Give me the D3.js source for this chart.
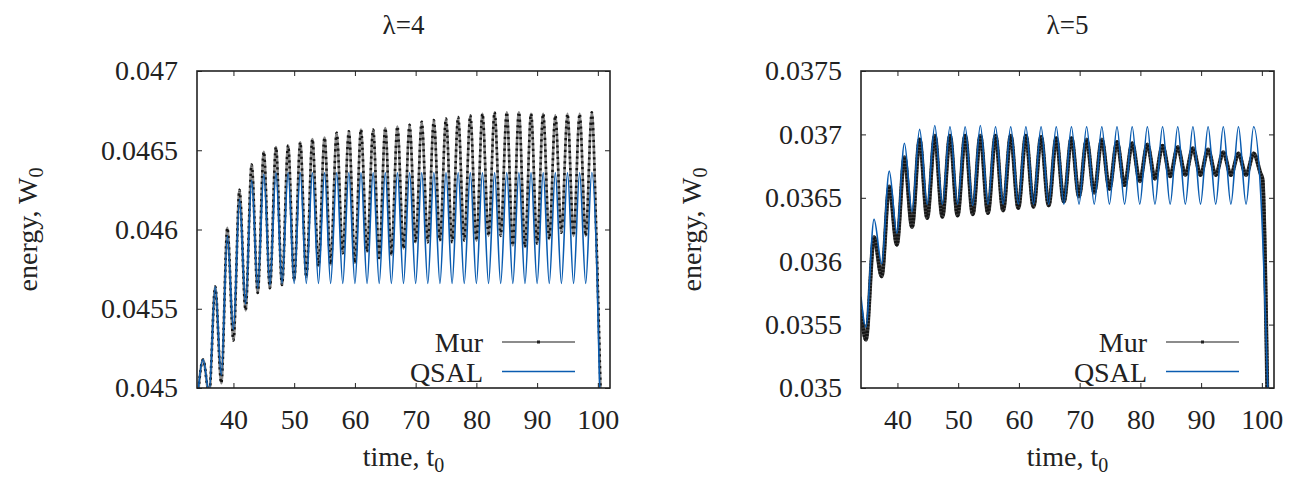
<!DOCTYPE html>
<html>
<head>
<meta charset="utf-8">
<script src="https://cdn.jsdelivr.net/npm/d3@7"></script>
<style>
  body { margin: 0; background: #fff; }
  svg { display: block; }
</style>
</head>
<body>
<div id="graph"></div>
<script>
// lambda = 4 : [time t0, energy W0] at turning points of each curve
const murL4 = [
	[34, 0.04488], [35, 0.04518], [36, 0.04496], [37, 0.04564], [38, 0.04503], [39, 0.04601],
	[40, 0.0453], [41, 0.04625], [42, 0.04549], [43, 0.04641], [44, 0.0456], [45, 0.04649],
	[46, 0.04563], [47, 0.04652], [48, 0.04565], [49, 0.04653], [50, 0.04568], [51, 0.04655],
	[52, 0.0457], [53, 0.04657], [54, 0.04577], [55, 0.04658], [56, 0.04578], [57, 0.04661],
	[58, 0.04585], [59, 0.04662], [60, 0.04579], [61, 0.04663], [62, 0.04586], [63, 0.04663],
	[64, 0.04582], [65, 0.04664], [66, 0.04584], [67, 0.04665], [68, 0.04588], [69, 0.04666],
	[70, 0.04592], [71, 0.04668], [72, 0.04592], [73, 0.04669], [74, 0.04593], [75, 0.0467],
	[76, 0.04592], [77, 0.04671], [78, 0.04593], [79, 0.04672], [80, 0.04593], [81, 0.04673],
	[82, 0.04596], [83, 0.04674], [84, 0.04596], [85, 0.04674], [86, 0.0459], [87, 0.04674],
	[88, 0.04589], [89, 0.04673], [90, 0.04591], [91, 0.04673], [92, 0.04594], [93, 0.04672],
	[94, 0.04598], [95, 0.04673], [96, 0.04596], [97, 0.04673], [98, 0.04596], [99, 0.04674],
	[99.8, 0.0459], [100.5, 0.0449]
];
const qsalL4 = [
	[34, 0.0449], [35, 0.04518], [36, 0.04497], [37, 0.04564], [38, 0.04508], [39, 0.04596],
	[40, 0.04537], [41, 0.04619], [42, 0.04553], [43, 0.04631], [44, 0.04563], [45, 0.04635],
	[46, 0.04565], [47, 0.04636], [48, 0.04566], [49, 0.04636], [50, 0.04566], [51, 0.04636],
	[52, 0.04566], [53, 0.04636], [54, 0.04566], [55, 0.04636], [56, 0.04566], [57, 0.04636],
	[58, 0.04566], [59, 0.04636], [60, 0.04566], [61, 0.04636], [62, 0.04566], [63, 0.04636],
	[64, 0.04566], [65, 0.04636], [66, 0.04566], [67, 0.04636], [68, 0.04566], [69, 0.04636],
	[70, 0.04566], [71, 0.04636], [72, 0.04566], [73, 0.04636], [74, 0.04566], [75, 0.04636],
	[76, 0.04566], [77, 0.04636], [78, 0.04566], [79, 0.04636], [80, 0.04566], [81, 0.04636],
	[82, 0.04566], [83, 0.04636], [84, 0.04566], [85, 0.04636], [86, 0.04566], [87, 0.04636],
	[88, 0.04566], [89, 0.04636], [90, 0.04566], [91, 0.04636], [92, 0.04566], [93, 0.04636],
	[94, 0.04566], [95, 0.04636], [96, 0.04566], [97, 0.04636], [98, 0.04566], [99, 0.04636],
	[99.9, 0.04567], [100.35, 0.0449]
];

// lambda = 5
const murL5 = [
	[34, 0.03562], [34.8, 0.03538], [36.15, 0.03619], [37.4, 0.03588], [38.65, 0.03659],
	[39.9, 0.03613], [41.15, 0.03682], [42.4, 0.03627], [43.65, 0.03696], [44.9, 0.03634],
	[46.15, 0.03699], [47.4, 0.03635], [48.65, 0.03699], [49.9, 0.03636], [51.15, 0.03699],
	[52.4, 0.03637], [53.65, 0.03699], [54.9, 0.03638], [56.15, 0.03699], [57.4, 0.0364],
	[58.65, 0.03699], [59.9, 0.03642], [61.15, 0.03699], [62.4, 0.03643], [63.65, 0.03698],
	[64.9, 0.03644], [66.15, 0.03697], [67.4, 0.03647], [68.65, 0.03697], [69.9, 0.03651],
	[71.15, 0.03696], [72.4, 0.03654], [73.65, 0.03696], [74.9, 0.03657], [76.15, 0.03694],
	[77.4, 0.0366], [78.65, 0.03693], [79.9, 0.03663], [81.15, 0.03692], [82.4, 0.03665],
	[83.65, 0.03691], [84.9, 0.03667], [86.15, 0.0369], [87.4, 0.03668], [88.65, 0.03689],
	[89.9, 0.03668], [91.15, 0.03688], [92.4, 0.03668], [93.65, 0.03686], [94.9, 0.03668],
	[96.15, 0.03685], [97.4, 0.03668], [98.65, 0.03685], [99.8, 0.03669], [100.1, 0.03665],
	[100.9, 0.03495]
];
const qsalL5 = [
	[34, 0.03572], [34.8, 0.03548], [36.15, 0.03633], [37.4, 0.03598], [38.65, 0.03671],
	[39.9, 0.03622], [41.15, 0.03693], [42.4, 0.03639], [43.65, 0.03704], [44.9, 0.03645],
	[46.15, 0.03707], [47.4, 0.03645], [48.65, 0.03706], [49.9, 0.03645], [51.15, 0.03706],
	[52.4, 0.03644], [53.65, 0.03707], [54.9, 0.03645], [56.15, 0.03706], [57.4, 0.03645],
	[58.65, 0.03706], [59.9, 0.03645], [61.15, 0.03706], [62.4, 0.03645], [63.65, 0.03706],
	[64.9, 0.03645], [66.15, 0.03706], [67.4, 0.03645], [68.65, 0.03706], [69.9, 0.03645],
	[71.15, 0.03706], [72.4, 0.03645], [73.65, 0.03706], [74.9, 0.03645], [76.15, 0.03706],
	[77.4, 0.03645], [78.65, 0.03706], [79.9, 0.03645], [81.15, 0.03706], [82.4, 0.03645],
	[83.65, 0.03706], [84.9, 0.03645], [86.15, 0.03706], [87.4, 0.03645], [88.65, 0.03706],
	[89.9, 0.03645], [91.15, 0.03706], [92.4, 0.03645], [93.65, 0.03706], [94.9, 0.03645],
	[96.15, 0.03706], [97.4, 0.03645], [98.65, 0.03706], [99.9, 0.03645], [101, 0.03495]
];

const xTicks = [40, 50, 60, 70, 80, 90, 100];
const yTicksL4 = [0.045, 0.0455, 0.046, 0.0465, 0.047];
const yTicksL5 = [0.035, 0.0355, 0.036, 0.0365, 0.037, 0.0375];
const seriesNames = ["Mur", "QSAL"];

const width = 1289;
const height = 478;
const font = "'Liberation Serif', 'Times New Roman', serif";
const blue = "#0a5cb0";

const svg = d3
	.select("#graph")
	.append("svg")
	.attr("width", width)
	.attr("height", height)
	.attr("viewBox", [0, 0, width, height])
	.style("background", "#fff");

function Panel(id, { title, mur, qsal, yDomain, yTicks, left, thickMur }) {
	const top = 71;
	const bottom = 388;
	const right = left + 413;

	const x = d3.scaleLinear([34, 102], [left, right]);
	const y = d3.scaleLinear(yDomain, [bottom, top]);

	const g = svg.append("g").attr("font-family", font).attr("fill", "#222");

	g.append("clipPath")
		.attr("id", id)
		.append("rect")
		.attr("x", left)
		.attr("y", top)
		.attr("width", right - left)
		.attr("height", bottom - top);

	const line = d3
		.line()
		.x((d) => x(d[0]))
		.y((d) => y(d[1]))
		.curve(d3.curveMonotoneX);

	const plot = g.append("g").attr("clip-path", `url(#${id})`);

	// Mur: line drawn with dense point markers
	plot.append("path")
		.attr("d", line(mur))
		.attr("fill", "none")
		.attr("stroke", thickMur ? "#444" : "#8a8a8a")
		.attr("stroke-width", thickMur ? 4 : 2.6);
	plot.append("path")
		.attr("d", line(mur))
		.attr("fill", "none")
		.attr("stroke", "#151515")
		.attr("stroke-width", thickMur ? 3.4 : 2.6)
		.attr("stroke-dasharray", thickMur ? "2 1.2" : "2.2 3.6");

	plot.append("path")
		.attr("d", line(qsal))
		.attr("fill", "none")
		.attr("stroke", blue)
		.attr("stroke-width", 1.6);

	const fmt = (d) => String(+d.toFixed(5));
	const styleAxis = (a) => {
		a.select(".domain").remove();
		a.selectAll(".tick line").attr("stroke", "#222").attr("stroke-width", 1);
		a.selectAll("text").attr("font-family", font).attr("font-size", 28).attr("fill", "#222");
	};

	g.append("g")
		.attr("transform", `translate(0,${bottom})`)
		.call(d3.axisBottom(x).tickValues(xTicks).tickSize(-5).tickPadding(21))
		.call(styleAxis);
	g.append("g")
		.attr("transform", `translate(0,${top})`)
		.call(d3.axisTop(x).tickValues(xTicks).tickSize(-5).tickFormat(""))
		.call(styleAxis);
	g.append("g")
		.attr("transform", `translate(${left},0)`)
		.call(d3.axisLeft(y).tickValues(yTicks).tickSize(-5).tickPadding(19).tickFormat(fmt))
		.call(styleAxis);
	g.append("g")
		.attr("transform", `translate(${right},0)`)
		.call(d3.axisRight(y).tickValues(yTicks).tickSize(-5).tickFormat(""))
		.call(styleAxis);

	g.append("rect")
		.attr("x", left)
		.attr("y", top)
		.attr("width", right - left)
		.attr("height", bottom - top)
		.attr("fill", "none")
		.attr("stroke", "#222")
		.attr("stroke-width", 1.6);

	// titles and axis labels
	g.append("text")
		.attr("x", (left + right) / 2)
		.attr("y", 34)
		.attr("text-anchor", "middle")
		.attr("font-size", 27)
		.text(title);

	const xl = g.append("text")
		.attr("x", (left + right) / 2)
		.attr("y", 466)
		.attr("text-anchor", "middle")
		.attr("font-size", 28)
		.text("time, t");
	xl.append("tspan").attr("font-size", 20).attr("dy", 6).text("0");

	const yl = g.append("text")
		.attr("transform", `translate(${left - 160},${(top + bottom) / 2}) rotate(-90)`)
		.attr("text-anchor", "middle")
		.attr("font-size", 28)
		.text("energy, W");
	yl.append("tspan").attr("font-size", 20).attr("dy", 6).text("0");

	// legend
	const lx = left + 286;
	const legend = g.append("g");
	seriesNames.forEach((name, i) => {
		const ly = 342 + i * 29.5;
		legend.append("text")
			.attr("x", lx)
			.attr("y", ly + 10)
			.attr("text-anchor", "end")
			.attr("font-size", 28)
			.text(name);
		legend.append("line")
			.attr("x1", lx + 19)
			.attr("x2", lx + 92)
			.attr("y1", ly)
			.attr("y2", ly)
			.attr("stroke", i ? blue : "#666")
			.attr("stroke-width", i ? 1.6 : 1.4);
		if (!i)
			legend.append("rect")
				.attr("x", lx + 54)
				.attr("y", ly - 1.5)
				.attr("width", 3)
				.attr("height", 3)
				.attr("fill", "#222");
	});
}

Panel("clipL4", {
	title: "λ=4",
	mur: murL4,
	qsal: qsalL4,
	yDomain: [0.045, 0.047],
	yTicks: yTicksL4,
	left: 197,
	thickMur: false,
});

Panel("clipL5", {
	title: "λ=5",
	mur: murL5,
	qsal: qsalL5,
	yDomain: [0.035, 0.0375],
	yTicks: yTicksL5,
	left: 861,
	thickMur: true,
});
</script>
</body>
</html>
